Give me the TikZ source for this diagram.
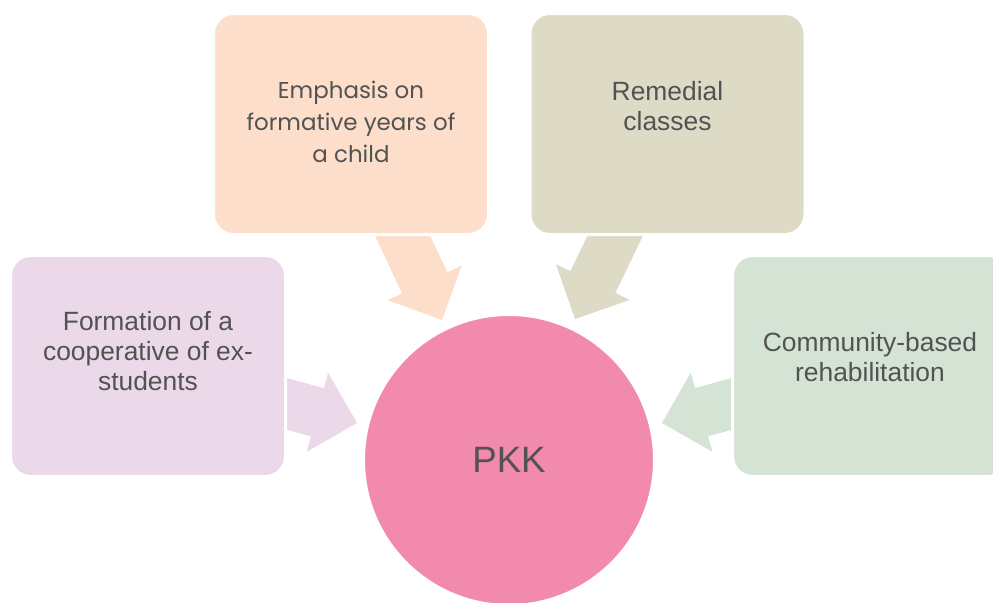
\documentclass[tikz,border=0pt]{standalone}
\usepackage{fontspec}
\setmainfont{Liberation Sans}
\newfontfamily\geofont{Poppins}
\usetikzlibrary{calc}
\usetikzlibrary{positioning}

\definecolor{peach}{RGB}{252,222,202}
\definecolor{olive}{RGB}{221,219,197}
\definecolor{lavender}{RGB}{235,217,234}
\definecolor{sage}{RGB}{213,227,213}
\definecolor{rose}{RGB}{242,138,174}
\definecolor{textgray}{RGB}{82,82,82}

% block arrow: colour, tail, tip
\newcommand{\fatarrow}[3]{%
	\coordinate (fa-base) at ($(#3)!\HeadLength!(#2)$);
	\fill[#1]
		($(#2)!\ShaftHalf!90:(#3)$) --
		($(fa-base)!\ShaftHalf!90:(#3)$) --
		($(fa-base)!\HeadHalf!90:(#3)$) --
		(#3) --
		($(fa-base)!\HeadHalf!-90:(#3)$) --
		($(fa-base)!\ShaftHalf!-90:(#3)$) --
		($(#2)!\ShaftHalf!-90:(#3)$) -- cycle;}

\begin{document}
\begin{tikzpicture}
	[x=0.75pt, y=-0.75pt,
	box/.style={draw=white, line width=2.25pt, rounded corners=15pt,
		minimum width=206.25pt, minimum height=165.75pt},
	boxtext/.style={text=textgray, align=center,
		font=\fontsize{19.8}{22.5}\selectfont}]

\def\ShaftHalf{18.75pt}
\def\HeadHalf{30.75pt}
\def\HeadLength{30.75pt}

\useasboundingbox (0,0) rectangle (993,603);

% Where everything sits
\coordinate (pkk-c) at (509,460);
\coordinate (emph-c) at (351,124);
\coordinate (remed-c) at (667.5,124);
\coordinate (form-c) at (148,366);
\coordinate (comm-c) at (870,366);

% Arrows (drawn first, the boxes hide their tails)
\coordinate (emph-tail) at ($(emph-c)+(35,76)$);
\coordinate (emph-tip) at ($(pkk-c)+(-67,-140)$);
\coordinate (remed-tail) at ($(remed-c)+(-35,76)$);
\coordinate (remed-tip) at ($(pkk-c)+(66,-141)$);
\coordinate (form-tail) at ($(form-c)+(100,27.5)$);
\coordinate (form-tip) at ($(pkk-c)+(-152,-37)$);
\coordinate (comm-tail) at ($(comm-c)+(-100,27.5)$);
\coordinate (comm-tip) at ($(pkk-c)+(153,-37)$);

\fatarrow{peach}{emph-tail}{emph-tip}
\fatarrow{olive}{remed-tail}{remed-tip}
\fatarrow{lavender}{form-tail}{form-tip}
\fatarrow{sage}{comm-tail}{comm-tip}

% Boxes
\node (emph) [box, fill=peach] at (emph-c) {};
\node (remed) [box, fill=olive] at (remed-c) {};
\node (form) [box, fill=lavender] at (form-c) {};
\node (comm) [box, fill=sage] at (comm-c) {};

\node (emph-text) [boxtext, font=\geofont\fontsize{17.2}{24}\selectfont]
	at ($(emph.center)+(0,-2)$) {Emphasis on\\formative years of\\a child};
\node (remed-text) [boxtext] at ($(remed.center)+(0,-18)$) {Remedial\\classes};
\node (form-text) [boxtext] at ($(form.center)+(0,-15)$)
	{Formation of a\\cooperative of ex-\\students};
\node (comm-text) [boxtext] at ($(comm.center)+(0,-8.5)$)
	{Community-based\\rehabilitation};

% Centre
\node (pkk) [circle, fill=rose, draw=white, line width=2.25pt,
	minimum size=218.25pt, inner sep=0pt, text=textgray,
	font=\fontsize{27.5}{33}\selectfont] at (pkk-c) {PKK};

\end{tikzpicture}
\end{document}
